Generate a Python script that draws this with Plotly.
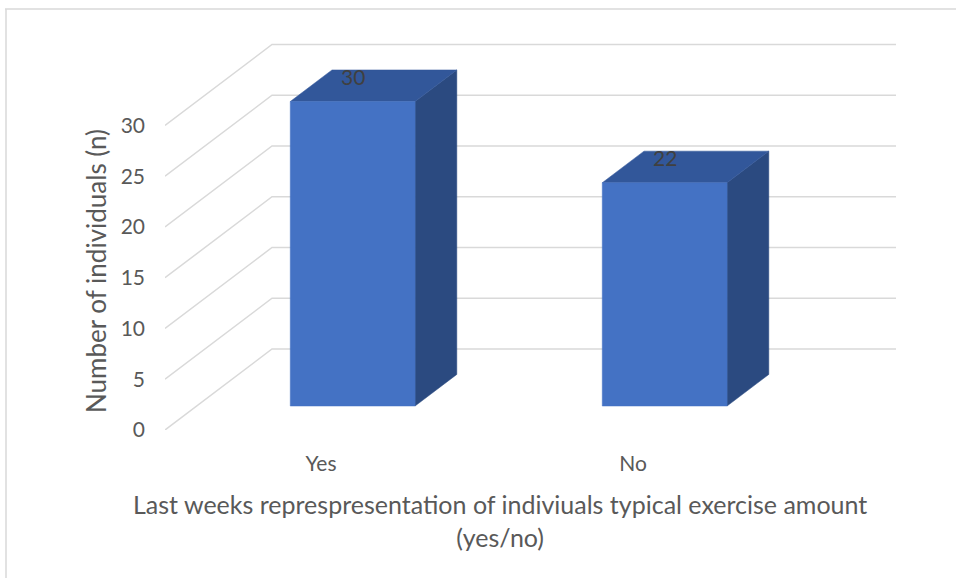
import plotly.graph_objects as go

# ---- data ----
categories = ["Yes", "No"]
values = [30, 22]
y_ticks = [0, 5, 10, 15, 20, 25, 30]
x_title = "Last weeks represpresentation of indiviuals typical exercise amount<br>(yes/no)"
y_title = "Number of individuals (n)"

# ---- layout / projection constants ----
FIG_W, FIG_H = 956, 578
L, R, T, B = 165, 59, 40, 148
PW, PH = FIG_W - L - R, FIG_H - T - B
PX_PER_CAT = 312.0
PX_PER_VAL = 10.15
X0 = -0.5
XMAX = X0 + PW / PX_PER_CAT
YMAX = PH / PX_PER_VAL
DX = 107 / PX_PER_CAT      # depth offset in category units
DY = 81 / PX_PER_VAL       # depth offset in value units
D1, D2 = 0.296, 0.686      # bar front/back depth
HW = 0.2                   # half bar width
NCAT = len(categories)

FRONT = "#4472C4"
TOP = "#32579A"
SIDE = "#2B4A80"
GRID = "#D9D9D9"
TXT = "#595959"
FONT = "Lato"

def proj(x, v, d):
    return x + d * DX, v + d * DY

fig = go.Figure()

# gridlines (side wall diagonal + back wall horizontal)
for v in y_ticks:
    p0 = proj(X0, v, 0)
    p1 = proj(X0, v, 1)
    p2 = proj(X0 + NCAT, v, 1)
    fig.add_trace(go.Scatter(x=[p0[0], p1[0], p2[0]], y=[p0[1], p1[1], p2[1]],
                             mode="lines", line=dict(color=GRID, width=1.5),
                             hoverinfo="skip", showlegend=False, cliponaxis=False))

def poly(pts, color):
    xs = [p[0] for p in pts] + [pts[0][0]]
    ys = [p[1] for p in pts] + [pts[0][1]]
    fig.add_trace(go.Scatter(x=xs, y=ys, mode="lines", fill="toself",
                             fillcolor=color, line=dict(color=color, width=0.5),
                             hoverinfo="skip", showlegend=False, cliponaxis=False))

for i, (cat, v) in enumerate(zip(categories, values)):
    xl, xr = i - HW, i + HW
    # side face
    poly([proj(xr, 0, D1), proj(xr, v, D1), proj(xr, v, D2), proj(xr, 0, D2)], SIDE)
    # top face
    poly([proj(xl, v, D1), proj(xr, v, D1), proj(xr, v, D2), proj(xl, v, D2)], TOP)
    # front face
    poly([proj(xl, 0, D1), proj(xr, 0, D1), proj(xr, v, D1), proj(xl, v, D1)], FRONT)
    lx, ly = proj(i, v, D1)
    fig.add_annotation(x=lx, y=ly, text=str(v), showarrow=False, yshift=25,
                       font=dict(family=FONT, size=21, color="#404040"))

def pxx(px):
    return (px - L) / PW

def pxy(py):
    return (FIG_H - B - py) / PH

# axis titles
fig.add_annotation(xref="paper", yref="paper", x=pxx(500), y=pxy(520),
                   xanchor="center", yanchor="middle",
                   text=x_title, showarrow=False, align="center",
                   font=dict(family=FONT, size=25, color=TXT))
fig.add_annotation(xref="paper", yref="paper", x=pxx(96), y=pxy(271),
                   xanchor="center", yanchor="middle",
                   text=y_title, showarrow=False, textangle=-90,
                   font=dict(family=FONT, size=26, color=TXT))

# chart border (top and left)
fig.add_shape(type="line", xref="paper", yref="paper", x0=pxx(5), x1=pxx(956),
              y0=pxy(9), y1=pxy(9), line=dict(color=GRID, width=1.5))
fig.add_shape(type="line", xref="paper", yref="paper", x0=pxx(6), x1=pxx(6),
              y0=pxy(9), y1=pxy(578), line=dict(color=GRID, width=1.5))

fig.update_layout(
    width=FIG_W, height=FIG_H,
    margin=dict(l=L, r=R, t=T, b=B, pad=0),
    paper_bgcolor="white", plot_bgcolor="white",
    xaxis=dict(range=[X0, XMAX], tickvals=list(range(NCAT)), ticktext=categories,
               showgrid=False, zeroline=False, showline=False, ticks="",
               ticklabelstandoff=19, fixedrange=True,
               tickfont=dict(family=FONT, size=21, color=TXT)),
    yaxis=dict(range=[0, YMAX], tickvals=y_ticks,
               showgrid=False, zeroline=False, showline=False, ticks="",
               ticklabelstandoff=19, fixedrange=True,
               tickfont=dict(family=FONT, size=21, color=TXT)),
    showlegend=False,
)

fig.write_html("out.html")
